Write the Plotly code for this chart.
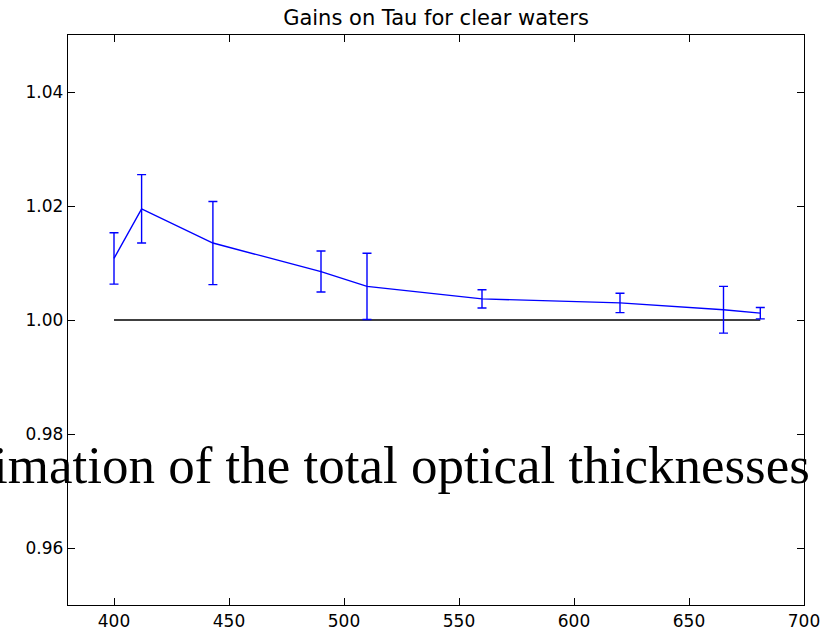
import plotly.graph_objects as go

wavelengths = [400, 412, 443, 490, 510, 560, 620, 665, 681]
gains = [1.0108, 1.0195, 1.0135, 1.0085, 1.0059, 1.0037, 1.0030, 1.0018, 1.0012]
gain_err = [0.0045, 0.0060, 0.0073, 0.0036, 0.0058, 0.0016, 0.0017, 0.0041, 0.0010]
ref_x = [400, 681]
ref_y = [1.0, 1.0]
x_ticks = [400, 450, 500, 550, 600, 650, 700]
y_ticks = [0.96, 0.98, 1.00, 1.02, 1.04]
title_text = "Gains on Tau for clear waters"
overlay_text = "imation of the total optical thicknesses"

fig = go.Figure()
fig.add_trace(go.Scatter(x=ref_x, y=ref_y, mode="lines",
                         line=dict(color="black", width=1.4),
                         showlegend=False, hoverinfo="skip"))
fig.add_trace(go.Scatter(x=wavelengths, y=gains, mode="lines",
                         line=dict(color="#0000ff", width=1.4),
                         error_y=dict(type="data", array=gain_err, visible=True,
                                      color="#0000ff", thickness=1.4, width=4.5),
                         showlegend=False))

axis_common = dict(showline=True, linecolor="black", linewidth=1.4, mirror="ticks",
                   ticks="inside", ticklen=7, tickwidth=1.2, tickcolor="black",
                   showgrid=False, zeroline=False, automargin=False,
                   tickfont=dict(family="DejaVu Sans", size=17, color="black"))

fig.update_xaxes(range=[380, 700], tickvals=x_ticks,
                 ticktext=[str(v) for v in x_ticks], **axis_common)
fig.update_yaxes(range=[0.95, 1.05], tickvals=y_ticks,
                 ticktext=[f"{v:.2f}" for v in y_ticks], **axis_common)

fig.update_layout(
    width=821, height=627,
    margin=dict(l=68, r=17, t=35, b=22),
    paper_bgcolor="white", plot_bgcolor="white",
    title=dict(text=title_text, x=(68 + 736 / 2) / 821, xanchor="center",
               y=1 - 18 / 627, yanchor="middle",
               font=dict(family="DejaVu Sans", size=21, color="black")),
)

fig.add_annotation(text=overlay_text, xref="paper", yref="paper",
                   x=(812 - 68) / 736, y=(605 - 465) / 570,
                   xanchor="right", yanchor="middle", showarrow=False,
                   font=dict(family="Liberation Serif", size=53, color="black"))

fig.write_html("out.html")
